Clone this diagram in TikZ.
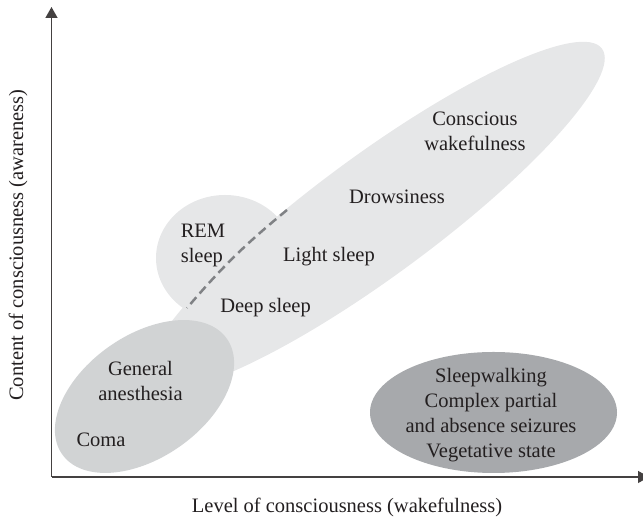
\documentclass[tikz,border=0pt]{standalone}
\usepackage{fontspec}
\setmainfont{Liberation Serif}
\usetikzlibrary{arrows.meta}
\definecolor{lightfill}{HTML}{E6E7E8}
\definecolor{midfill}{HTML}{D1D3D4}
\definecolor{darkfill}{HTML}{A7A9AC}
\definecolor{dashgray}{HTML}{808285}
\definecolor{inkgray}{HTML}{231F20}

\begin{document}
\begin{tikzpicture}[x=1pt, y=1pt,
    lbl/.style={inner sep=0pt, align=center, text=inkgray, font=\fontsize{20.5}{25}\selectfont},
    axis/.style={line width=1.3pt, draw=inkgray!85, -{Triangle[length=11pt, width=12pt]}}]
                
                \useasboundingbox (0,0) rectangle (643,521);
                
                % regions
                \fill[lightfill] (375,305) ellipse [x radius=282, y radius=60, rotate=36.4];
                \fill[lightfill] (225,263) ellipse [x radius=69, y radius=63];
                \fill[midfill] (144.5,124.5) ellipse [x radius=100.6, y radius=61.2, rotate=35];
                \fill[darkfill] (493.5,108.5) ellipse [x radius=123.5, y radius=60.5];
                
                % axes
                \coordinate (origin) at (51.5,44);
                \coordinate (ytip) at (51.5,514);
                \coordinate (xtip) at (649,44);
                \draw[axis] (origin) -- (ytip); %
                \draw[axis] (origin) -- (xtip); %
                
                % REM border
                \coordinate (remtop) at (287,311);
                \coordinate (rembot) at (187,213);
                \draw[dashgray, line width=2.5pt, dash pattern=on 9pt off 5pt] (remtop) to[bend right=5] (rembot); %
                
                \node[lbl]             (wake)    at (475,390)   {Conscious\\wakefulness};
                \node[lbl]             (drowsy)  at (397,324)   {Drowsiness};
                \node[lbl]             (light)   at (329,264)   {Light sleep};
                \node[lbl, align=left] (rem)     at (203,276)   {REM\\sleep};
                \node[lbl]             (deep)    at (265.5,213) {Deep sleep};
                \node[lbl]             (anest)   at (140.5,140) {General\\anesthesia};
                \node[lbl]             (coma)    at (101,81.5)  {Coma};
                \node[lbl]             (seizure) at (491,105.5) {Sleepwalking\\Complex partial\\and absence seizures\\Vegetative state};
                
                \node[lbl]             (xlabel)  at (347,14)    {Level of consciousness (wakefulness)};
                \node[lbl, rotate=90]  (ylabel)  at (18,276)    {Content of consciousness (awareness)};
                
\end{tikzpicture}
\end{document}
